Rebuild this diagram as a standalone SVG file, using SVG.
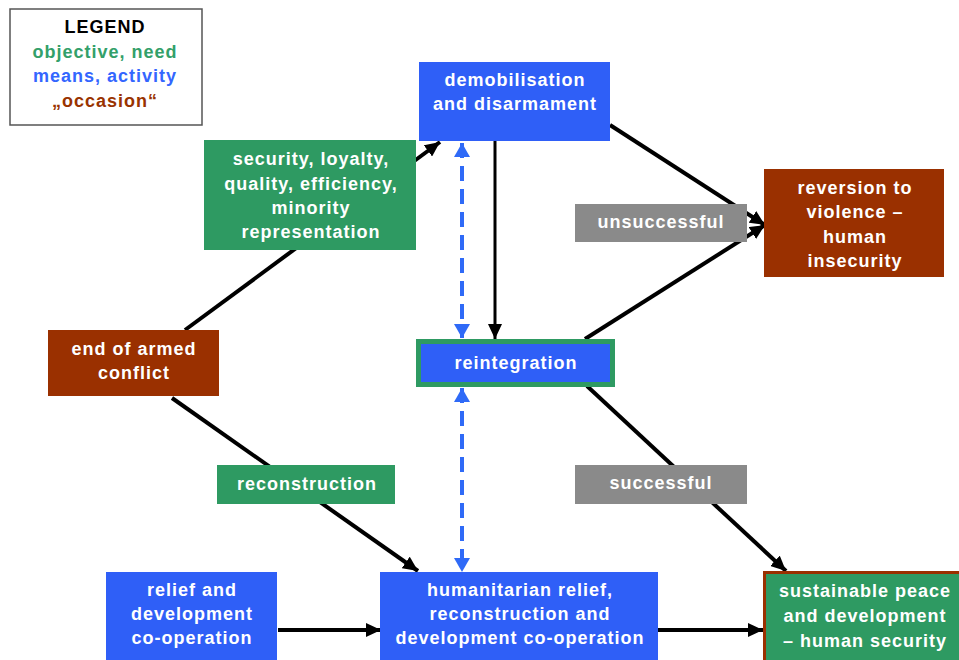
<svg xmlns="http://www.w3.org/2000/svg" width="959" height="660" viewBox="0 0 959 660">
<style>
text{font-family:"Liberation Sans",Arial,sans-serif;font-weight:bold;font-size:18px;letter-spacing:1px;text-anchor:middle}
.w{fill:#ffffff}
.blue{fill:#2f5ff7}
.green{fill:#2e9a62}
.brown{fill:#9a3000}
.gray{fill:#8a8a8a}
.ln{stroke:#000;stroke-width:4;fill:none;marker-end:url(#ah)}
.dash{stroke:#2f6af7;stroke-width:4;stroke-dasharray:15 8;fill:none;marker-start:url(#bh);marker-end:url(#bh)}
</style>
<defs>
<marker id="ah" markerUnits="userSpaceOnUse" markerWidth="16" markerHeight="14" refX="15" refY="7" orient="auto"><path d="M0,0 L15,7 L0,14 z" fill="#000"/></marker>
<marker id="bh" markerUnits="userSpaceOnUse" markerWidth="14" markerHeight="16" refX="14" refY="8" orient="auto-start-reverse"><path d="M0,0 L14,8 L0,16 z" fill="#2f6af7"/></marker>
</defs>
<rect width="959" height="660" fill="#fff"/>
<g id="connectors">
<line class="ln" x1="185" y1="330" x2="440" y2="142"/>
<line class="ln" x1="172" y1="398" x2="418" y2="571"/>
<line class="ln" x1="610" y1="125" x2="765" y2="225"/>
<line class="ln" x1="585" y1="339" x2="765" y2="225"/>
<line class="ln" x1="587" y1="386" x2="786" y2="571"/>
<line class="ln" style="stroke-width:3" x1="495" y1="141" x2="495" y2="339"/>
<line class="dash" x1="462" y1="143" x2="462" y2="338"/>
<line class="dash" x1="462" y1="388" x2="462" y2="572"/>
<line class="ln" x1="278" y1="630" x2="381" y2="630"/>
<line class="ln" x1="658" y1="630" x2="763" y2="630"/>
</g>
<g id="legend">
<rect x="10" y="9" width="192" height="116" fill="#fff" stroke="#555" stroke-width="1.5"/>
<text x="105" y="33" fill="#000">LEGEND</text>
<text x="105" y="58" fill="#33a06a">objective, need</text>
<text x="105" y="82" fill="#3366ff">means, activity</text>
<text x="105" y="107" fill="#993300">„occasion“</text>
</g>
<g id="demobilisation">
<rect class="blue" x="419" y="62" width="191" height="79"/>
<text class="w" x="515" y="86">demobilisation</text>
<text class="w" x="515" y="110">and disarmament</text>
</g>
<g id="security">
<rect class="green" x="204" y="140" width="212" height="110"/>
<text class="w" x="311" y="165">security, loyalty,</text>
<text class="w" x="311" y="190">quality, efficiency,</text>
<text class="w" x="311" y="214">minority</text>
<text class="w" x="311" y="238">representation</text>
</g>
<g id="end-of-conflict">
<rect class="brown" x="48" y="330" width="171" height="66"/>
<text class="w" x="134" y="355">end of armed</text>
<text class="w" x="134" y="379">conflict</text>
</g>
<g id="reintegration">
<rect x="416" y="339" width="199" height="48" fill="#2e9a62"/>
<rect class="blue" x="421" y="344" width="189" height="38"/>
<text class="w" x="516" y="369">reintegration</text>
</g>
<g id="reversion">
<rect class="brown" x="764" y="169" width="180" height="108"/>
<text class="w" x="855" y="194">reversion to</text>
<text class="w" x="855" y="218">violence –</text>
<text class="w" x="855" y="243">human</text>
<text class="w" x="855" y="267">insecurity</text>
</g>
<g id="unsuccessful">
<rect class="gray" x="575" y="204" width="172" height="38"/>
<text class="w" x="661" y="228">unsuccessful</text>
</g>
<g id="successful">
<rect class="gray" x="575" y="465" width="172" height="39"/>
<text class="w" x="661" y="489">successful</text>
</g>
<g id="reconstruction">
<rect class="green" x="217" y="465" width="178" height="39"/>
<text class="w" x="307" y="490">reconstruction</text>
</g>
<g id="relief">
<rect class="blue" x="106" y="572" width="171" height="88"/>
<text class="w" x="192" y="596">relief and</text>
<text class="w" x="192" y="620">development</text>
<text class="w" x="192" y="644">co-operation</text>
</g>
<g id="humanitarian">
<rect class="blue" x="380" y="572" width="278" height="88"/>
<text class="w" x="520" y="596">humanitarian relief,</text>
<text class="w" x="520" y="620">reconstruction and</text>
<text class="w" x="520" y="644">development co-operation</text>
</g>
<g id="sustainable">
<rect x="764.5" y="572.5" width="196" height="90" fill="#2e9a62" stroke="#9a3000" stroke-width="3"/>
<text class="w" x="865" y="597">sustainable peace</text>
<text class="w" x="865" y="622">and development</text>
<text class="w" x="865" y="647">– human security</text>
</g>
</svg>
